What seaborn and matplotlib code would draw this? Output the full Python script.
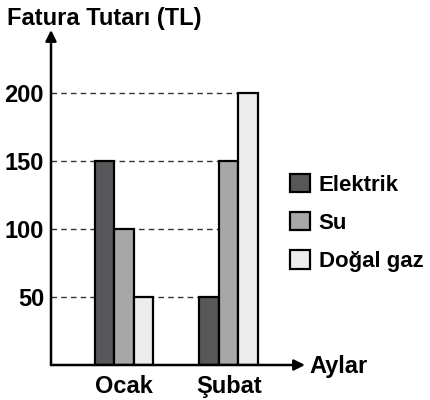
import pandas as pd
import seaborn as sns
import matplotlib.pyplot as plt

# ====================
# Data
# ====================

aylar = ['Ocak', 'Şubat']
turler = ['Elektrik', 'Su', 'Doğal gaz']
elektrik = [150, 50]
su = [100, 150]
dogalgaz = [50, 200]
yticks = [50, 100, 150, 200]
renkler = ['#58585a', '#a7a7aa', '#ececec']

df = pd.DataFrame({
    'ay': aylar * 3,
    'tur': [t for t in turler for _ in aylar],
    'tutar': elektrik + su + dogalgaz,
})

# ====================
# Plotting
# ====================

sns.set_style('white')
plt.rcParams['font.family'] = ['Liberation Sans', 'DejaVu Sans']
plt.rcParams['font.weight'] = 'bold'
plt.rcParams['text.color'] = 'black'
plt.rcParams['xtick.color'] = 'black'
plt.rcParams['ytick.color'] = 'black'

fs = 17

fig = plt.figure(figsize=(4.31, 4.0), dpi=100)
ax = fig.add_axes([51/431, 35/400, 254/431, 335/400])

sns.barplot(data=df, x='ay', y='tutar', hue='tur', palette=renkler,
            width=0.56, edgecolor='black', linewidth=1.6, ax=ax, zorder=3)

ax.set_xlim(-0.70, 1.73)
ax.set_ylim(0, 246.3)
ax.hlines(yticks, -0.70, 1.28, colors='#333333', linestyles=(0, (4, 3)),
          linewidth=1.0, zorder=1)

for s in ax.spines.values():
    s.set_visible(False)
ax.annotate('', xy=(0, 1), xytext=(0, 0), xycoords='axes fraction',
            arrowprops=dict(arrowstyle='-|>', color='black', lw=1.8,
                            mutation_scale=16, shrinkA=0, shrinkB=0))
ax.annotate('', xy=(1, 0), xytext=(0, 0), xycoords='axes fraction',
            arrowprops=dict(arrowstyle='-|>', color='black', lw=1.8,
                            mutation_scale=16, shrinkA=0, shrinkB=0))

ax.set_yticks(yticks)
ax.set_yticklabels([str(v) for v in yticks], fontsize=fs, fontweight='bold')
ax.set_xticks([0, 1])
ax.set_xticklabels(aylar, fontsize=fs, fontweight='bold')
ax.tick_params(axis='x', length=0, pad=7)
ax.tick_params(axis='y', length=0, pad=5)
ax.set_xlabel('')
ax.set_ylabel('')

fig.text(7/431, 1 - 18/400, 'Fatura Tutarı (TL)', fontsize=fs,
         fontweight='bold', va='center', ha='left')
fig.text(309/431, 1 - 367/400, 'Aylar', fontsize=fs,
         fontweight='bold', va='center', ha='left')

ax.legend_.remove()
handles, labels = ax.get_legend_handles_labels()
leg = fig.legend(handles, labels, loc='upper left',
                 bbox_to_anchor=(281/431, 1 - 165/400), frameon=False,
                 fontsize=16, handlelength=0.9, handleheight=0.9,
                 handletextpad=0.4, labelspacing=0.73, borderaxespad=0)
for t in leg.get_texts():
    t.set_fontweight('bold')

fig.savefig('out.png', dpi=100)
